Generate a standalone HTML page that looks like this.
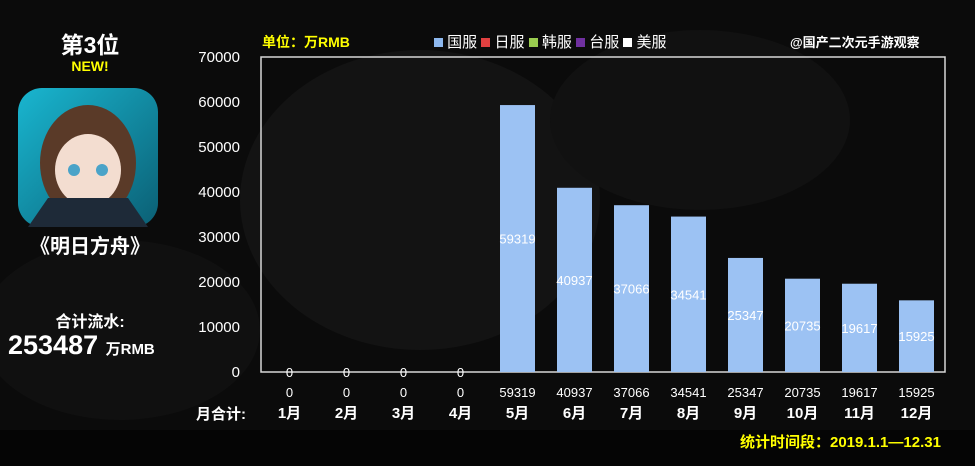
<!DOCTYPE html>
<html><head><meta charset="utf-8"><style>
body{margin:0;width:975px;height:466px;background:#050505;overflow:hidden;font-family:"Liberation Sans","Noto Sans CJK SC",sans-serif;color:#fff;position:relative}
.a{position:absolute;white-space:nowrap}
</style></head><body>
<svg class="a" style="left:0;top:0" width="975" height="466">
<rect width="975" height="430" fill="#0b0b0b"/>
<ellipse cx="420" cy="200" rx="180" ry="150" fill="#131313"/>
<ellipse cx="700" cy="120" rx="150" ry="90" fill="#111"/>
<ellipse cx="120" cy="330" rx="140" ry="90" fill="#101010"/>
</svg>
<div class="a" style="left:0;width:180px;top:26px;text-align:center;font-size:23px;font-weight:bold">第3位</div>
<div class="a" style="left:0;width:180px;top:58px;text-align:center;font-size:14px;font-weight:bold;color:#ffff00">NEW!</div>
<svg class="a" style="left:18px;top:88px" width="140" height="139">
<defs><linearGradient id="g" x1="0" y1="0" x2="1" y2="1"><stop offset="0" stop-color="#19b6d0"/><stop offset="1" stop-color="#0b5f74"/></linearGradient></defs>
<rect width="140" height="139" rx="24" fill="url(#g)"/>
<ellipse cx="70" cy="75" rx="48" ry="58" fill="#5a3a28"/>
<ellipse cx="70" cy="82" rx="33" ry="36" fill="#f3ddd0"/>
<circle cx="56" cy="82" r="6" fill="#4aa3c8"/><circle cx="84" cy="82" r="6" fill="#4aa3c8"/>
<path d="M10 139 L30 110 L110 110 L130 139 Z" fill="#1e2a38"/>
</svg>
<div class="a" style="left:0;width:180px;top:230px;text-align:center;font-size:20px;font-weight:bold">《明日方舟》</div>
<div class="a" style="left:0;width:180px;top:308px;text-align:center;font-size:16px;font-weight:bold">合计流水:</div>
<div class="a" style="left:8px;top:330px;font-size:27px;font-weight:bold">253487 <span style="font-size:15px">万RMB</span></div>
<div class="a" style="left:262px;top:32px;font-size:14px;font-weight:bold;color:#ffff00">单位：万RMB</div>
<div class="a" style="left:434px;top:31px;font-size:15px">
<span><i style="display:inline-block;width:9px;height:9px;background:#8db8ef"></i> 国服 </span>
<span><i style="display:inline-block;width:9px;height:9px;background:#e04040"></i> 日服 </span>
<span><i style="display:inline-block;width:9px;height:9px;background:#9acd50"></i> 韩服 </span>
<span><i style="display:inline-block;width:9px;height:9px;background:#7030a0"></i> 台服 </span>
<span><i style="display:inline-block;width:9px;height:9px;background:#fff"></i> 美服</span></div>
<div class="a" style="left:790px;top:32px;font-size:13px;font-weight:bold">@国产二次元手游观察</div>
<svg id="c" class="a" style="left:0;top:0" width="975" height="466"></svg>
<div class="a" style="left:196px;top:403px;font-size:15px;font-weight:bold">月合计:</div>
<div class="a" style="left:740px;top:431px;font-size:15px;font-weight:bold;color:#ffff00">统计时间段：2019.1.1—12.31</div>
<script>
const months=["1月","2月","3月","4月","5月","6月","7月","8月","9月","10月","11月","12月"];
const cnValues=[0,0,0,0,59319,40937,37066,34541,25347,20735,19617,15925];
const yTicks=[0,10000,20000,30000,40000,50000,60000,70000];
const svg=document.getElementById('c'),NS="http://www.w3.org/2000/svg";
const L=261,R=945,T=57,B=372,ymax=70000;
const y=v=>B-(v/ymax)*(B-T);
const bw=(R-L)/months.length;
const x=i=>L+bw*(i+0.5);
function mk(t,a,txt){const e=document.createElementNS(NS,t);for(const k in a)e.setAttribute(k,a[k]);if(txt!==undefined)e.textContent=txt;svg.appendChild(e);return e;}
const f='"Liberation Sans","Noto Sans CJK SC",sans-serif';
let fr=mk('rect',{x:L,y:T,width:R-L,height:B-T,fill:'none',stroke:'#d8d8d8','stroke-width':1.5});


yTicks.forEach(v=>{const t=mk('text',{x:240,y:y(v)+5,'text-anchor':'end',fill:'#fff','font-size':15,'font-family':f},v);

});
cnValues.forEach((v,i)=>{
const r=mk('rect',{x:x(i)-17.5,y:y(v),width:35,height:B-y(v),fill:'#9cc2f3'});


const lbl=mk('text',{x:x(i),y:v>0?y(v/2)+5:B+5,'text-anchor':'middle',fill:'#fff','font-size':13,'font-family':f},v);


const tot=mk('text',{x:x(i),y:397,'text-anchor':'middle',fill:'#fff','font-size':13,'font-family':f},v);


const m=mk('text',{x:x(i),y:418,'text-anchor':'middle',fill:'#fff','font-size':15,'font-weight':'bold','font-family':f},months[i]);


});
</script>
</body></html>
